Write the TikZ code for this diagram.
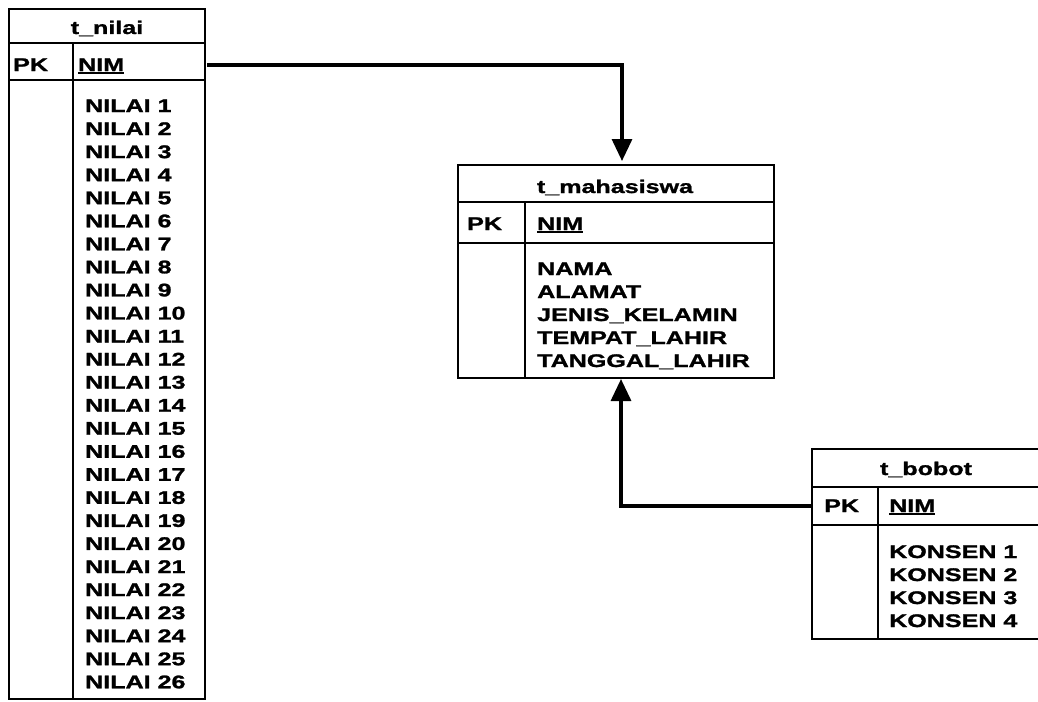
\documentclass[tikz,border=0pt]{standalone}
\usepackage{fontspec}
\usetikzlibrary{arrows.meta}
\newfontfamily\erdfont[FakeStretch=1.37,FakeBold=1.4]{Liberation Sans}
\newcommand\myul[1]{\setbox0\hbox{#1}\rlap{\rule[-2.8pt]{\wd0}{2pt}}\box0}
\tikzset{
  cell/.style={draw, line width=2.5pt, inner sep=0pt, outer sep=0pt, anchor=north west},
  divline/.style={line width=2.5pt},
  txt/.style={inner sep=0pt, anchor=base west, font=\erdfont\bfseries\fontsize{18.3}{20}\selectfont},
  ttl/.style={inner sep=0pt, anchor=base, font=\erdfont\bfseries\fontsize{18.3}{20}\selectfont},
  conn/.style={line width=3.2pt, -{Triangle[width=20pt,length=22pt]}}
}
\begin{document}
\begin{tikzpicture}[x=1pt,y=-1pt]
\useasboundingbox (0,0) rectangle (1038,701);
\fill[white] (0,0) rectangle (1038,701);

% ---------- t_nilai ----------
\node[cell, minimum width=196pt, minimum height=34pt] (nilaiT) at (9,9) {};
\node[cell, minimum width=196pt, minimum height=37pt] (nilaiK) at (9,43) {};
\node[cell, minimum width=196pt, minimum height=619pt] (nilaiB) at (9,80) {};
\draw[divline] ([xshift=64pt]nilaiK.north west) -- ([xshift=64pt]nilaiB.south west);
\node[ttl] (nilaiTitle) at (107,34) {t\_nilai};
\node[txt] (nilaiPK) at (13,71) {PK};
\node[txt] (nilaiNIM) at (78,71) {\myul{NIM}};
\foreach \i in {1,...,26} {
  \node[txt] (nilaiF\i) at (85,{112+(\i-1)*23.05}) {NILAI \i};
}

% ---------- t_mahasiswa ----------
\node[cell, minimum width=316pt, minimum height=37pt] (mhsT) at (458,165) {};
\node[cell, minimum width=316pt, minimum height=41pt] (mhsK) at (458,202) {};
\node[cell, minimum width=316pt, minimum height=135pt] (mhsB) at (458,243) {};
\draw[divline] ([xshift=67pt]mhsK.north west) -- ([xshift=67pt]mhsB.south west);
\node[ttl] (mhsTitle) at (615,193) {t\_mahasiswa};
\node[txt] (mhsPK) at (467,230) {PK};
\node[txt] (mhsNIM) at (537,230) {\myul{NIM}};
\node[txt] (mhsF1) at (537,275) {NAMA};
\node[txt] (mhsF2) at (537,298) {ALAMAT};
\node[txt] (mhsF3) at (537,321) {JENIS\_KELAMIN};
\node[txt] (mhsF4) at (537,344) {TEMPAT\_LAHIR};
\node[txt] (mhsF5) at (537,367) {TANGGAL\_LAHIR};

% ---------- t_bobot ----------
\node[cell, minimum width=233pt, minimum height=38pt] (bobotT) at (812,449) {};
\node[cell, minimum width=233pt, minimum height=38pt] (bobotK) at (812,487) {};
\node[cell, minimum width=233pt, minimum height=114pt] (bobotB) at (812,525) {};
\draw[divline] ([xshift=66pt]bobotK.north west) -- ([xshift=66pt]bobotB.south west);
\node[ttl] (bobotTitle) at (926,475) {t\_bobot};
\node[txt] (bobotPK) at (824,512) {PK};
\node[txt] (bobotNIM) at (889,512) {\myul{NIM}};
\foreach \i in {1,...,4} {
  \node[txt] (bobotF\i) at (889,{558+(\i-1)*23}) {KONSEN \i};
}

% ---------- connectors ----------
\draw[conn, shorten >=4pt] ([xshift=2pt,yshift=-3.5pt]nilaiK.east) -| ([xshift=6pt]mhsT.north);
\draw[conn, shorten >=1pt] (bobotK.west) -| ([xshift=5pt]mhsB.south);
\end{tikzpicture}
\end{document}
